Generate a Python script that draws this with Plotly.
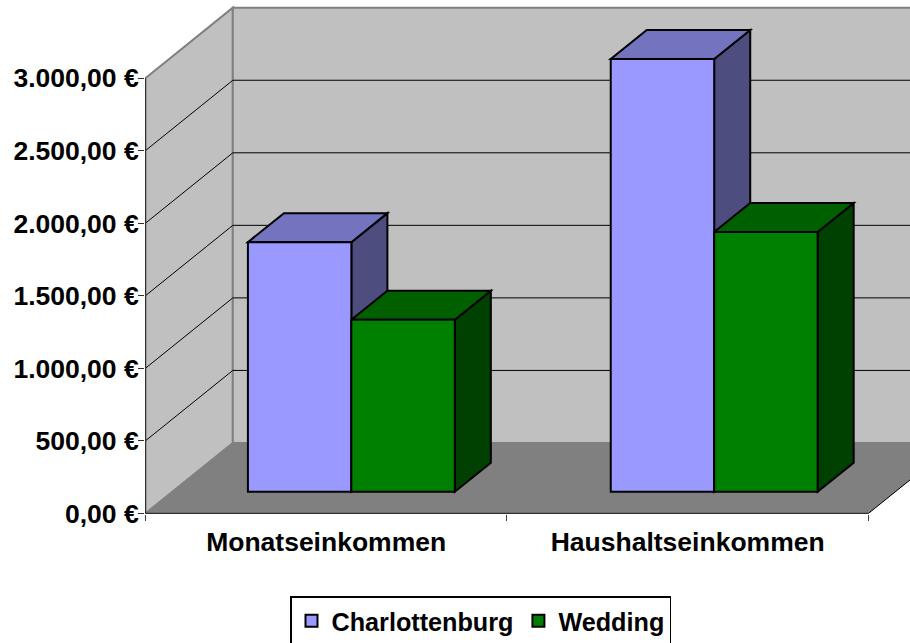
import plotly.graph_objects as go

categories = ["Monatseinkommen", "Haushaltseinkommen"]
charlottenburg = [1720, 2982]
wedding = [1185, 1790]
y_ticks = [0, 500, 1000, 1500, 2000, 2500, 3000]
y_labels = ["0,00 €", "500,00 €", "1.000,00 €", "1.500,00 €", "2.000,00 €", "2.500,00 €", "3.000,00 €"]

FONT = "Liberation Sans"
PX_X = 361.7          # pixels per category
PX_Y = 72.6 / 500     # pixels per euro
DX = 87.5 / PX_X      # wall depth on the x axis
DY = 70.5 / PX_Y      # wall depth on the y axis
Z_FRONT, Z_BACK = 0.308, 0.72
BAR_W = 103.5 / PX_X
XMAX = 2.0
GROUP_START = 0.5698
GROUP_STEP = 1.0036


def P(x, y, z=0.0):
    return x + z * DX, y + z * DY


def poly(points, fill, line=None, width=0):
    path = "M" + "L".join(f"{x},{y}" for x, y in points) + "Z"
    return dict(type="path", xref="x", yref="y", path=path, fillcolor=fill, layer="below",
                line=dict(color=line or fill, width=width))


def seg(a, b, color="black", width=1, layer="below"):
    return dict(type="line", xref="x", yref="y", x0=a[0], y0=a[1], x1=b[0], y1=b[1],
                layer=layer, line=dict(color=color, width=width))


top = y_ticks[-1]
shapes = [
    poly([P(0, 0), P(XMAX, 0), P(XMAX, 0, 1), P(0, 0, 1)], "#808080"),
    poly([P(0, 0), P(0, top), P(0, top, 1), P(0, 0, 1)], "#C0C0C0", "#808080", 2),
    poly([P(0, 0, 1), P(0, top, 1), P(XMAX, top, 1), P(XMAX, 0, 1)], "#C0C0C0", "#808080", 2),
]
shapes.append(poly([P(0, 0), P(0, 0, 1), P(XMAX, 0, 1), P(XMAX, 0)], "#808080"))
for v in y_ticks[1:-1]:
    shapes.append(seg(P(0, v), P(0, v, 1)))
    shapes.append(seg(P(0, v, 1), P(XMAX, v, 1)))
shapes.append(seg(P(XMAX, 0), P(XMAX, 0, 1)))

centers = []
for i, (a, b) in enumerate(zip(charlottenburg, wedding)):
    cx = GROUP_START + i * GROUP_STEP
    centers.append(cx)
    lx, mx, rx = cx - BAR_W, cx, cx + BAR_W
    base = Z_FRONT * DY
    tz = Z_BACK - Z_FRONT
    for x0, x1, v, c_top, c_side in [
        (lx, mx, a, "#7373BF", "#4D4D80"),
        (mx, rx, b, "#006000", "#004000"),
    ]:
        fy = base + v
        shapes.append(poly([P(x1, base), P(x1, fy), P(x1, fy, tz), P(x1, base, tz)], c_side, "black", 2))
        shapes.append(poly([P(x0, fy), P(x1, fy), P(x1, fy, tz), P(x0, fy, tz)], c_top, "black", 2))

shapes.append(seg(P(0, 0), P(0, top), "#303030", 1.5, "above"))
shapes.append(seg(P(0, 0), P(XMAX, 0), "#303030", 1.5, "above"))

base_val = Z_FRONT * DY
fig = go.Figure()
fig.add_bar(name="Charlottenburg", x=centers, y=charlottenburg, base=[base_val] * 2,
            marker=dict(color="#9999FF", line=dict(color="black", width=2)))
fig.add_bar(name="Wedding", x=centers, y=wedding, base=[base_val] * 2,
            marker=dict(color="#008000", line=dict(color="black", width=2)))

fig.update_layout(
    width=910, height=643,
    margin=dict(l=145, r=0, t=0, b=128.5, pad=0, autoexpand=False),
    paper_bgcolor="white", plot_bgcolor="white",
    barmode="group", bargap=1 - 2 * BAR_W / GROUP_STEP, bargroupgap=0,
    shapes=shapes,
    font=dict(family=FONT, color="black"),
    xaxis=dict(
        range=[-0.001, 765 / PX_X], showgrid=False, zeroline=False, showline=False,
        tickmode="array", tickvals=[0.5, 1.5], ticktext=categories, ticks="",
        tickfont=dict(family=FONT, size=26.5, weight=700), ticklabelstandoff=9,
        minor=dict(tickmode="array", tickvals=[0, 1, 2], ticks="outside", ticklen=6,
                   tickwidth=1, tickcolor="#404040", showgrid=False),
    ),
    yaxis=dict(
        range=[-4, 514.4 / PX_Y - 4], showgrid=False, zeroline=False, showline=False,
        tickmode="array", tickvals=y_ticks, ticktext=y_labels, ticks="outside", ticklen=6,
        tickwidth=1, tickcolor="#303030", ticklabelstandoff=-6,
        tickfont=dict(family=FONT, size=26.5, weight=700),
    ),
    legend=dict(
        orientation="h", xanchor="left", yanchor="top", x=(290 - 145) / 765, y=1 - 597 / 514.5,
        bgcolor="white", bordercolor="black", borderwidth=1.5,
        font=dict(family=FONT, size=25.2, weight=700, color="black"),
        traceorder="normal",
    ),
)

fig.write_html("out.html", config=dict(displayModeBar=False),
               post_script="document.body.style.margin='0';document.body.style.overflow='hidden';")
